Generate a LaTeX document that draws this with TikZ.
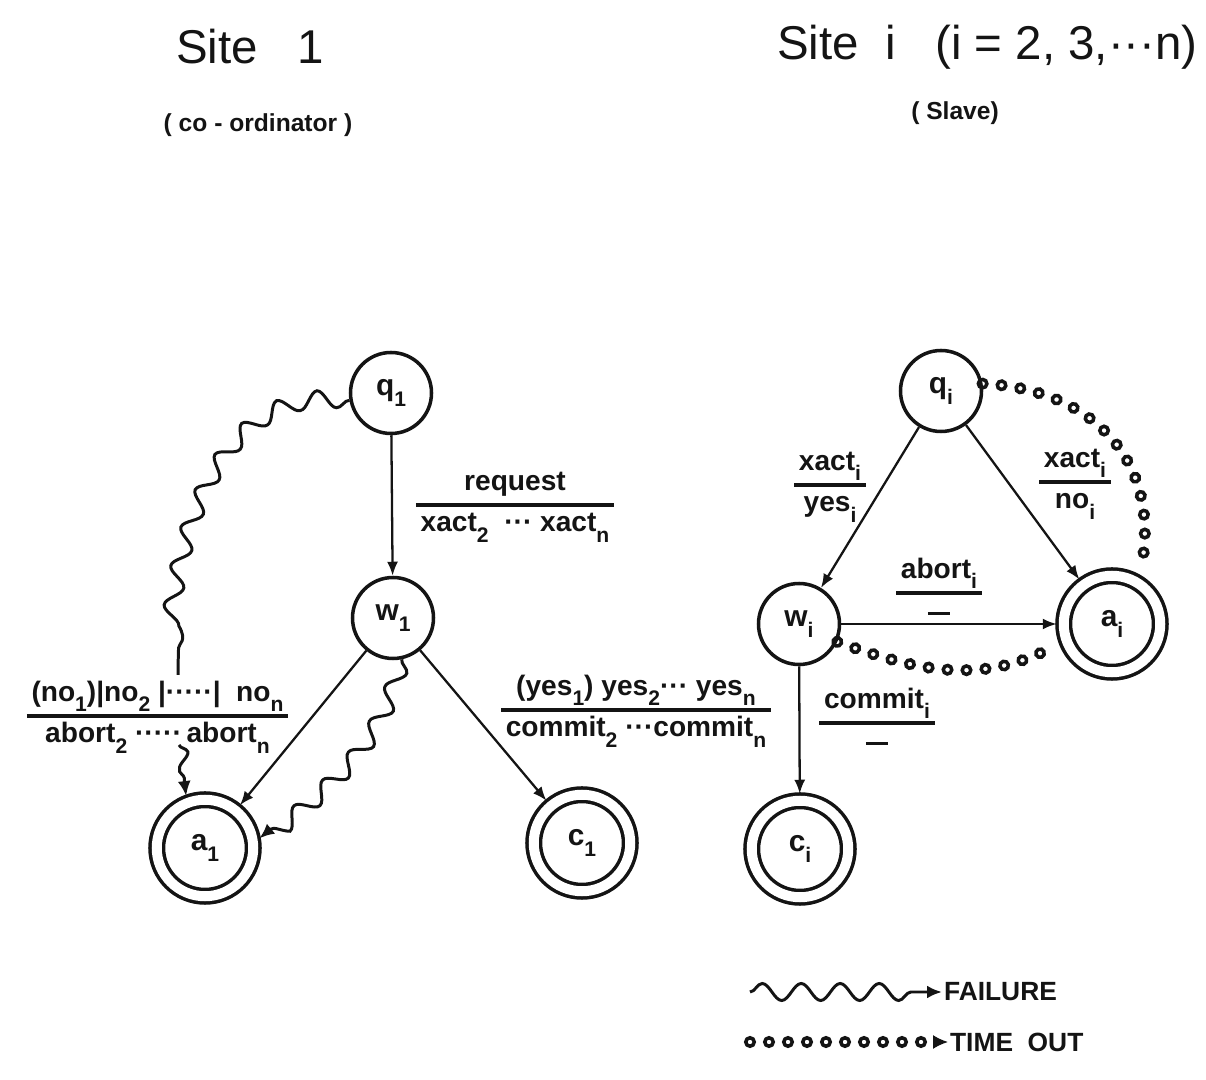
\documentclass[tikz,border=0pt]{standalone}
\usepackage{fontspec}
\setmainfont{Liberation Sans}
\usetikzlibrary{
  arrows.meta,
  decorations.markings,
  decorations.pathmorphing,
  positioning
}
\definecolor{inkBlack}{HTML}{141414}
\setlength{\arrayrulewidth}{1.8pt}
\newcommand{\dn}[1]{\raisebox{-0.7ex}{\fontsize{12}{12}\selectfont #1}}
\newcommand{\trans}[2]{\begin{tabular}{@{\,}c@{\,}}\rule[-0.9ex]{0pt}{2.6ex}#1\\\hline\rule[-0.9ex]{0pt}{2.6ex}#2\end{tabular}}
\newcommand{\nodash}{\rule[0.3ex]{0.45cm}{2pt}}
\tikzset{
  stateNode/.style={
    circle,
    draw=inkBlack,
    line width=2pt,
    minimum size=1.62cm,
    inner sep=0pt,
    text=inkBlack,
    font=\fontsize{17}{17}\selectfont\bfseries
  },
  acceptNode/.style={stateNode, minimum size=1.93cm, double, double distance=0.2cm, outer sep=0.14cm},
  moveArrow/.style={-{Latex[length=2.8mm,width=2.2mm]}, line width=1.3pt, inkBlack},
  failArrow/.style={
    -{Latex[length=3mm,width=2.6mm]},
    line width=1.7pt,
    inkBlack,
    decorate,
    decoration={snake, amplitude=0.17cm, segment length=0.78cm, post length=2.5mm}
  },
  timeoutArrow/.style={
    decoration={markings,
      mark=between positions 0 and 0.95 step 0.38cm with {\draw[inkBlack, line width=2pt] (0,0) circle (0.085cm);},
      mark=at position 1 with {\arrow[inkBlack, line width=1pt]{Latex[length=3mm,width=2.8mm]}}},
    postaction={decorate}
  },
  transLabel/.style={font=\fontsize{16}{19}\selectfont\bfseries, inner sep=0pt, text=inkBlack},
  titleText/.style={font=\fontsize{27}{30}\selectfont, text=inkBlack},
  subTitle/.style={font=\fontsize{14}{16}\selectfont\bfseries, text=inkBlack},
  legendText/.style={font=\fontsize{15}{18}\selectfont\bfseries, anchor=west, inner sep=1pt, text=inkBlack}
}

\begin{document}
\begin{tikzpicture}[x=1cm,y=1cm]
  \useasboundingbox (0,0) rectangle (24.12,21.58);

  % headings
  \node[titleText] (site1) at (5.0,20.64) {Site\ \ \ 1};
  \node[subTitle] (coord) at (5.16,19.08) {( co - ordinator )};
  \node[titleText, anchor=east, inner sep=0pt] (sitei) at (23.96,20.64) {Site\ \ i\ \ \ (i = 2, 3,···n)};
  \node[subTitle] (slave) at (19.10,19.32) {( Slave)};

  % site 1 (co-ordinator)
  \node[stateNode] (q1) at (7.82,13.72) {q\dn{1}};
  \node[stateNode] (w1) at (7.86,9.22) {w\dn{1}};
  \node[acceptNode] (a1) at (4.10,4.62) {a\dn{1}};
  \node[acceptNode] (c1) at (11.64,4.72) {c\dn{1}};
  \coordinate (fail1) at (3.56,8.08);
  \coordinate (fail2) at (3.58,6.68);

  \draw[moveArrow] (q1) -- (w1);
  \draw[moveArrow] (w1) -- (a1);
  \draw[moveArrow] (w1) -- (c1);
  \draw[failArrow] (w1.-78) to[out=-105, in=40] (a1.10);
  \draw[failArrow, -] (q1.190) to[out=175, in=90] (fail1);
  \draw[failArrow, decoration={segment length=0.6cm, amplitude=0.12cm}] (fail2) to[out=-70, in=100] (a1.110);

  \node[transLabel] (reqlbl) at (10.30,11.48) {\trans{request}{xact\dn{2}\ \ ···\ xact\dn{n}}};
  \node[transLabel] (nolbl) at (3.15,7.26) {\trans{(no\dn{1})|no\dn{2} |·····|\ \ no\dn{n}}{abort\dn{2}\ ·····\,abort\dn{n}}};
  \node[transLabel] (yeslbl) at (12.72,7.38) {\trans{(yes\dn{1}) yes\dn{2}··· yes\dn{n}}{commit\dn{2} ···commit\dn{n}}};

  % site i (slave)
  \node[stateNode] (qi) at (18.82,13.76) {q\dn{i}};
  \node[stateNode] (wi) at (15.98,9.10) {w\dn{i}};
  \node[acceptNode] (ai) at (22.24,9.10) {a\dn{i}};
  \node[acceptNode] (ci) at (16.00,4.60) {c\dn{i}};

  \draw[moveArrow] (qi) -- (wi);
  \draw[moveArrow] (qi) -- (ai);
  \draw[moveArrow] (wi) -- (ai);
  \draw[moveArrow] (wi) -- (ci);
  \path[timeoutArrow] (qi.10) .. controls (21.9,13.8) and (23.3,12.3) .. (ai.60);
  \path[timeoutArrow] (wi.-25) to[out=-20, in=210] (ai.200);

  \node[transLabel] (yesilbl) at (16.60,11.88) {\trans{xact\dn{i}}{yes\dn{i}}};
  \node[transLabel] (noilbl) at (21.50,11.94) {\trans{xact\dn{i}}{no\dn{i}}};
  \node[transLabel] (abortlbl) at (18.78,9.72) {\trans{abort\dn{i}}{\nodash}};
  \node[transLabel] (commitlbl) at (17.54,7.12) {\trans{commit\dn{i}}{\nodash}};

  % legend
  \node[legendText] (failtxt) at (18.84,1.74) {FAILURE};
  \coordinate (failstart) at (15.0,1.74);
  \draw[failArrow] (failstart) -- (failtxt.west);
  \node[legendText] (timetxt) at (18.96,0.74) {TIME\ \ OUT};
  \coordinate (timestart) at (15.0,0.74);
  \path[timeoutArrow] (timestart) -- (timetxt.west);
\end{tikzpicture}
\end{document}
